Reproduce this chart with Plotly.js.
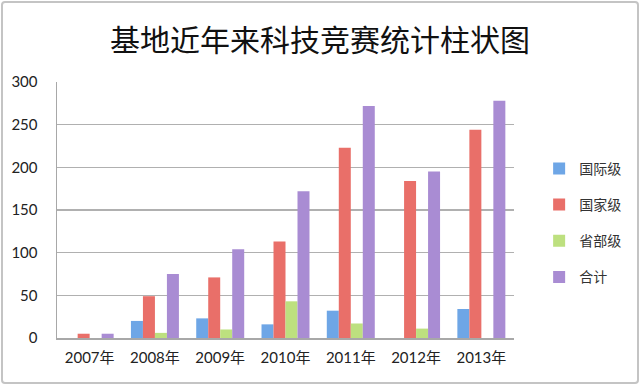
<!DOCTYPE html>
<html><head><meta charset="utf-8">
<script src="https://cdn.plot.ly/plotly-3.0.1.min.js"></script>
<style>
html,body{margin:0;padding:0;background:#fff;}
#frame{position:absolute;left:1px;top:1px;width:634px;height:379px;border:2px solid #c4c4c4;border-radius:4px;}
#chart{position:absolute;left:0;top:0;width:640px;height:385px;}
</style>
</head><body>
<div id="frame"></div>
<div id="chart"></div>
<script>
const years = ["2007年","2008年","2009年","2010年","2011年","2012年","2013年"];
const seriesNames = ["国际级","国家级","省部级","合计"];
const intl = [0, 20, 23, 16, 32, 0, 34];
const national = [5, 49, 71, 113, 223, 184, 244];
const provincial = [0, 6, 10, 43, 17, 11, 0];
const total = [5, 75, 104, 172, 272, 195, 278];
const colors = ["#6ea6e6","#e96f69","#bde07f","#a98cd3"];

const vals = [intl, national, provincial, total];
const font = 'Lato, "Noto Sans CJK SC", sans-serif';
const traces = vals.map((v,i)=>({
  type:'bar', x:years, y:v, name:seriesNames[i],
  marker:{color:colors[i], line:{width:0}},
  legendgroup:'g'+i, hoverinfo:'y'
}));
const layout = {
  width:640, height:385,
  margin:{l:57, r:126, t:81.5, b:46.7},
  paper_bgcolor:'rgba(0,0,0,0)', plot_bgcolor:'#fff',
  title:{text:'基地近年来科技竞赛统计柱状图', x:0.5, xanchor:'center', y:0.895, yanchor:'middle',
    font:{family:'"Noto Sans CJK SC", sans-serif', size:30, color:'#111'}},
  barmode:'group', bargap:0.265, bargroupgap:0,
  font:{family:font, size:15, color:'#222'},
  xaxis:{showline:true, linecolor:'#a8a8a8', linewidth:1.5, ticks:'', showgrid:false,
    tickfont:{family:font, size:15, color:'#222'}, ticklabelstandoff:5},
  yaxis:{range:[0,300], dtick:50, showgrid:true, gridcolor:'#b0b0b0', gridwidth:1.5,
    showline:true, linecolor:'#a8a8a8', linewidth:1.5, ticks:'', zeroline:false,
    tickfont:{family:font, size:15, color:'#222'}, ticklabelstandoff:15},
  legend:{x:1.055, xanchor:'left', y:0.45, yanchor:'middle', traceorder:'grouped',
    tracegroupgap:15, font:{family:'"Noto Sans CJK SC", sans-serif', size:14, color:'#333'},
    itemwidth:30, bgcolor:'rgba(0,0,0,0)'},
  showlegend:true
};
Plotly.newPlot('chart', traces, layout, {displayModeBar:false, staticPlot:true});
</script>
</body></html>
